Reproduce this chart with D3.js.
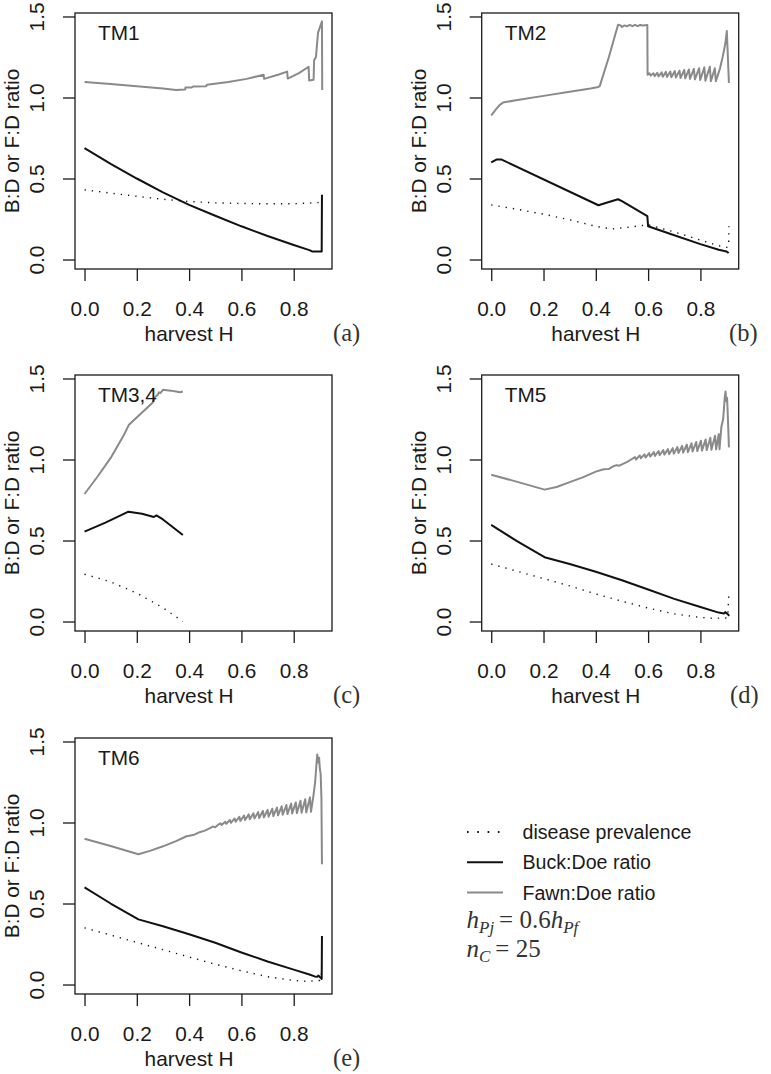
<!DOCTYPE html>
<html>
<head>
<meta charset="utf-8">
<script src="https://cdn.jsdelivr.net/npm/d3@7"></script>
<style>
  body { margin: 0; background: #fff; }
  svg { display: block; }
</style>
</head>
<body>
<svg></svg>
<script>

// values: [harvest H, ratio]
const xTicks = [0, 0.2, 0.4, 0.6, 0.8];
const yTicks = [0, 0.5, 1.0, 1.5];

const tm1Prev = [[0,0.43],[0.1,0.41],[0.2,0.39],[0.3,0.372],[0.4,0.358],[0.5,0.35],[0.6,0.346],[0.7,0.344],[0.8,0.344],[0.9,0.352]];
const tm1Buck = [[0,0.687],[0.1,0.59],[0.2,0.5],[0.3,0.415],[0.4,0.337],[0.5,0.27],[0.6,0.205],[0.7,0.145],[0.8,0.09],[0.86,0.058],[0.87,0.05],[0.907,0.05],[0.908,0.40]];
const tm1Fawn = [[0,1.095],[0.1,1.083],[0.2,1.07],[0.3,1.055],[0.35,1.047],[0.385,1.05],[0.386,1.062],[0.41,1.062],[0.415,1.068],[0.465,1.07],[0.468,1.078],[0.55,1.095],[0.62,1.115],[0.685,1.14],[0.687,1.115],[0.74,1.14],[0.775,1.16],[0.777,1.117],[0.82,1.15],[0.857,1.19],[0.859,1.105],[0.876,1.11],[0.878,1.23],[0.885,1.25],[0.893,1.40],[0.908,1.47],[0.909,1.047]];

const tm2Prev = [[0,0.337],[0.1,0.31],[0.2,0.28],[0.3,0.245],[0.4,0.205],[0.46,0.188],[0.53,0.2],[0.6,0.215],[0.7,0.17],[0.8,0.12],[0.87,0.085],[0.9,0.075],[0.908,0.08],[0.909,0.205]];
const tm2Buck = [[0,0.60],[0.02,0.617],[0.04,0.617],[0.41,0.335],[0.45,0.355],[0.485,0.372],[0.50,0.36],[0.597,0.268],[0.6,0.205],[0.7,0.15],[0.8,0.095],[0.87,0.06],[0.9,0.05],[0.908,0.04]];
const tm2Fawn = [[0,0.889],[0.015,0.92],[0.03,0.95],[0.045,0.969],[0.1,0.985],[0.2,1.01],[0.3,1.035],[0.38,1.055],[0.41,1.065],[0.415,1.07],[0.45,1.25],[0.485,1.449],[0.495,1.445],[0.50,1.435],[0.51,1.445],[0.52,1.44],[0.53,1.448],[0.54,1.44],[0.55,1.448],[0.56,1.44],[0.57,1.448],[0.58,1.445],[0.597,1.447],[0.598,1.14],[0.605,1.15],[0.610,1.135],[0.620,1.150],[0.625,1.132],[0.635,1.152],[0.640,1.130],[0.652,1.155],[0.656,1.128],[0.668,1.158],[0.672,1.127],[0.685,1.160],[0.689,1.125],[0.702,1.163],[0.706,1.123],[0.720,1.166],[0.724,1.120],[0.738,1.170],[0.742,1.118],[0.756,1.173],[0.760,1.115],[0.775,1.177],[0.779,1.112],[0.795,1.181],[0.799,1.108],[0.815,1.186],[0.819,1.104],[0.836,1.19],[0.840,1.10],[0.855,1.18],[0.859,1.10],[0.875,1.18],[0.885,1.25],[0.895,1.33],[0.901,1.41],[0.909,1.09]];

const tm34Prev = [[0,0.292],[0.1,0.245],[0.2,0.175],[0.3,0.085],[0.376,0.0]];
const tm34Buck = [[0,0.555],[0.08,0.61],[0.168,0.678],[0.22,0.665],[0.265,0.645],[0.275,0.655],[0.3,0.63],[0.376,0.534]];
const tm34Fawn = [[0,0.787],[0.05,0.895],[0.1,1.01],[0.15,1.15],[0.17,1.215],[0.22,1.29],[0.26,1.35],[0.27,1.385],[0.28,1.40],[0.285,1.415],[0.29,1.41],[0.3,1.43],[0.33,1.425],[0.35,1.42],[0.365,1.415],[0.376,1.42]];

const tm5Prev = [[0,0.355],[0.1,0.31],[0.2,0.265],[0.3,0.22],[0.4,0.17],[0.5,0.125],[0.6,0.083],[0.7,0.047],[0.8,0.025],[0.85,0.02],[0.9,0.022],[0.905,0.035],[0.909,0.19]];
const tm5Buck = [[0,0.596],[0.1,0.495],[0.204,0.397],[0.3,0.355],[0.4,0.307],[0.5,0.255],[0.6,0.198],[0.7,0.14],[0.8,0.09],[0.87,0.055],[0.89,0.05],[0.895,0.058],[0.905,0.045],[0.91,0.035]];
const tm5Fawn = [[0,0.906],[0.1,0.862],[0.204,0.814],[0.25,0.83],[0.3,0.86],[0.35,0.89],[0.4,0.925],[0.43,0.94],[0.45,0.942],[0.47,0.96],[0.48,0.965],[0.49,0.962],[0.5,0.97],[0.52,0.985],[0.535,1.0],[0.550,1.015],[0.554,1.000],[0.568,1.025],[0.572,1.008],[0.586,1.032],[0.590,1.012],[0.604,1.040],[0.608,1.018],[0.622,1.046],[0.626,1.022],[0.640,1.052],[0.644,1.026],[0.658,1.058],[0.662,1.030],[0.676,1.064],[0.680,1.033],[0.694,1.070],[0.698,1.036],[0.712,1.077],[0.716,1.040],[0.730,1.084],[0.734,1.043],[0.748,1.092],[0.752,1.046],[0.766,1.100],[0.770,1.050],[0.784,1.108],[0.788,1.052],[0.802,1.116],[0.806,1.055],[0.820,1.124],[0.824,1.058],[0.838,1.134],[0.842,1.060],[0.856,1.146],[0.860,1.062],[0.870,1.156],[0.873,1.064],[0.880,1.20],[0.887,1.25],[0.893,1.38],[0.896,1.42],[0.899,1.36],[0.902,1.38],[0.905,1.26],[0.909,1.075]];

const tm6Prev = [[0,0.35],[0.1,0.305],[0.2,0.26],[0.3,0.215],[0.4,0.17],[0.5,0.125],[0.6,0.085],[0.7,0.048],[0.8,0.025],[0.85,0.02],[0.9,0.025],[0.905,0.04],[0.907,0.11]];
const tm6Buck = [[0,0.60],[0.1,0.50],[0.206,0.402],[0.3,0.36],[0.4,0.31],[0.5,0.258],[0.6,0.198],[0.7,0.142],[0.8,0.092],[0.86,0.062],[0.88,0.05],[0.89,0.048],[0.895,0.055],[0.9,0.045],[0.905,0.04],[0.907,0.035],[0.908,0.30]];
const tm6Fawn = [[0,0.90],[0.1,0.855],[0.206,0.804],[0.25,0.825],[0.3,0.853],[0.35,0.885],[0.39,0.915],[0.40,0.918],[0.42,0.925],[0.44,0.94],[0.46,0.95],[0.48,0.965],[0.49,0.975],[0.5,0.97],[0.51,0.985],[0.520,0.995],[0.524,0.985],[0.538,1.005],[0.542,0.992],[0.556,1.015],[0.560,0.998],[0.574,1.025],[0.578,1.005],[0.592,1.035],[0.596,1.010],[0.610,1.043],[0.614,1.015],[0.628,1.050],[0.632,1.020],[0.646,1.057],[0.650,1.024],[0.664,1.064],[0.668,1.028],[0.682,1.071],[0.686,1.032],[0.700,1.078],[0.704,1.036],[0.718,1.085],[0.722,1.040],[0.736,1.092],[0.740,1.044],[0.754,1.100],[0.758,1.048],[0.772,1.108],[0.776,1.052],[0.790,1.116],[0.794,1.056],[0.808,1.124],[0.812,1.058],[0.826,1.134],[0.830,1.060],[0.844,1.144],[0.848,1.062],[0.862,1.155],[0.866,1.066],[0.875,1.16],[0.882,1.25],[0.887,1.36],[0.89,1.42],[0.893,1.37],[0.897,1.40],[0.90,1.33],[0.903,1.30],[0.906,1.15],[0.908,0.742]];

const panelNames  = ["TM1", "TM2", "TM3,4", "TM5", "TM6"];
const panelTags   = ["(a)", "(b)", "(c)", "(d)", "(e)"];
const panelSeries = [
  [tm1Prev, tm1Buck, tm1Fawn],
  [tm2Prev, tm2Buck, tm2Fawn],
  [tm34Prev, tm34Buck, tm34Fawn],
  [tm5Prev, tm5Buck, tm5Fawn],
  [tm6Prev, tm6Buck, tm6Fawn]
];
const legendLabels = ["disease prevalence", "Buck:Doe ratio", "Fawn:Doe ratio"];

const SANS = "'Liberation Sans', Arial, sans-serif";
const SERIF = "'Liberation Serif', 'Times New Roman', serif";
const INK = "#1a1a1a";
const seriesStyle = [
  {stroke: "#111", width: 1.4, dash: "1.3,6"},
  {stroke: "#111", width: 2},
  {stroke: "#8a8a8a", width: 2}
];

const svg = d3.select("svg")
  .attr("width", 771)
  .attr("height", 1074)
  .style("background", "#fff");

const boxW = 257, boxH = 256;
const panelPos = [
  {left: 75,    top: 13,  tagX: 333},
  {left: 481.7, top: 13,  tagX: 729},
  {left: 75,    top: 375, tagX: 333},
  {left: 481.7, top: 375, tagX: 730},
  {left: 75,    top: 738, tagX: 333}
];

panelPos.forEach((p, i) => drawPanel(p, i));

function drawPanel(p, i) {
  const g = svg.append("g")
    .attr("transform", `translate(${p.left},${p.top})`);

  const x = d3.scaleLinear().domain([-0.0364, 0.9464]).range([0, boxW]);
  const y = d3.scaleLinear().domain([-0.0585, 1.5215]).range([boxH, 0]);

  // series
  const line = d3.line().x(d => x(d[0])).y(d => y(d[1]));
  const order = [2, 1, 0];
  order.forEach(k => {
    const s = seriesStyle[k];
    g.append("path")
      .attr("d", line(panelSeries[i][k]))
      .attr("fill", "none")
      .attr("stroke", s.stroke)
      .attr("stroke-width", s.width)
      .attr("stroke-linejoin", "round")
      .attr("stroke-dasharray", s.dash || null);
  });

  // box
  g.append("rect")
    .attr("width", boxW).attr("height", boxH)
    .attr("fill", "none")
    .attr("stroke", INK)
    .attr("stroke-width", 1.3);

  // x axis
  const xAxisG = g.append("g")
    .attr("transform", `translate(0,${boxH})`)
    .call(d3.axisBottom(x).tickValues(xTicks).tickSize(12).tickPadding(20)
      .tickFormat(d3.format(".1f")));
  xAxisG.select(".domain").remove();
  xAxisG.selectAll(".tick line").attr("stroke", INK).attr("stroke-width", 1.3);
  xAxisG.selectAll(".tick text")
    .attr("fill", INK)
    .style("font-family", SANS)
    .style("font-size", "20.8px");

  // y axis, labels turned like R's default
  const yAxisG = g.append("g")
    .call(d3.axisLeft(y).tickValues(yTicks).tickSize(12).tickFormat(d3.format(".1f")));
  yAxisG.select(".domain").remove();
  yAxisG.selectAll(".tick line").attr("stroke", INK).attr("stroke-width", 1.3);
  yAxisG.selectAll(".tick text")
    .attr("x", 0).attr("y", -31).attr("dy", null)
    .attr("transform", "rotate(-90)")
    .attr("text-anchor", "middle")
    .attr("fill", INK)
    .style("font-family", SANS)
    .style("font-size", "20.8px");

  g.append("text")
    .attr("transform", `translate(-56,${boxH / 2}) rotate(-90)`)
    .attr("text-anchor", "middle")
    .attr("fill", INK)
    .style("font-family", SANS)
    .style("font-size", "20.8px")
    .text("B:D or F:D ratio");

  g.append("text")
    .attr("x", x(0.4))
    .attr("y", boxH + 72)
    .attr("text-anchor", "middle")
    .attr("fill", INK)
    .style("font-family", SANS)
    .style("font-size", "20.8px")
    .text("harvest H");

  g.append("text")
    .attr("x", 23)
    .attr("y", 27)
    .attr("fill", INK)
    .style("font-family", SANS)
    .style("font-size", "20.8px")
    .text(panelNames[i]);

  svg.append("text")
    .attr("x", p.tagX)
    .attr("y", p.top + boxH + 72)
    .attr("fill", "#333")
    .style("font-family", SERIF)
    .style("font-size", "24.5px")
    .text(panelTags[i]);
}

// legend
const legend = svg.append("g").attr("transform", "translate(467,832)");
legendLabels.forEach((lab, k) => {
  const s = seriesStyle[k];
  const row = legend.append("g").attr("transform", `translate(0,${k * 30.3})`);
  row.append("line")
    .attr("x1", 0).attr("x2", k === 0 ? 34 : 36)
    .attr("stroke", s.stroke)
    .attr("stroke-width", k === 0 ? 2 : s.width)
    .attr("stroke-dasharray", k === 0 ? "1.6,8.7" : null);
  row.append("text")
    .attr("x", 55.5)
    .attr("y", 7)
    .attr("fill", INK)
    .style("font-family", SANS)
    .style("font-size", "19.6px")
    .text(lab);
});

// parameter notes
const note1 = svg.append("text")
  .attr("x", 466.5).attr("y", 928)
  .attr("fill", "#333")
  .style("font-family", SERIF)
  .style("font-size", "25px");
note1.append("tspan").style("font-style", "italic").text("h");
note1.append("tspan").attr("dy", 5).style("font-style", "italic").style("font-size", "17px").text("Pj");
note1.append("tspan").attr("dy", -5).text("\u2009= 0.6");
note1.append("tspan").style("font-style", "italic").text("h");
note1.append("tspan").attr("dy", 5).style("font-style", "italic").style("font-size", "17px").text("Pf");

const note2 = svg.append("text")
  .attr("x", 466.5).attr("y", 957)
  .attr("fill", "#333")
  .style("font-family", SERIF)
  .style("font-size", "25px");
note2.append("tspan").style("font-style", "italic").text("n");
note2.append("tspan").attr("dy", 5).style("font-style", "italic").style("font-size", "17px").text("C");
note2.append("tspan").attr("dy", -5).text("\u2009= 25");

</script>
</body>
</html>
